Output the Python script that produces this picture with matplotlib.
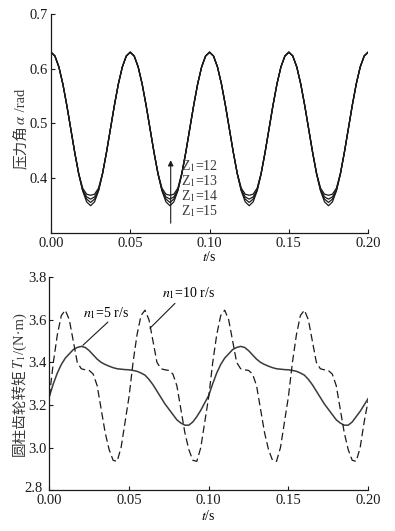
import matplotlib
matplotlib.use('Agg')
import matplotlib.pyplot as plt
import numpy as np

plt.rcParams['font.family'] = ['Liberation Serif', 'Noto Sans CJK SC']
plt.rcParams['mathtext.fontset'] = 'stix'
plt.rcParams['axes.unicode_minus'] = False

# time axis, both panels: 0 .. 0.2 s in 0.0025 s steps
t = np.linspace(0.0, 0.2, 81)

# pressure angle (rad) for each tooth number
alpha_z12 = [0.630, 0.623, 0.603, 0.572, 0.533, 0.490, 0.447, 0.409, 0.382, 0.371,
             0.369, 0.371, 0.382, 0.409, 0.447, 0.490, 0.533, 0.572, 0.603, 0.623,
             0.630, 0.623, 0.603, 0.572, 0.533, 0.490, 0.447, 0.409, 0.382, 0.371,
             0.369, 0.371, 0.382, 0.409, 0.447, 0.490, 0.533, 0.572, 0.603, 0.623,
             0.630, 0.623, 0.603, 0.572, 0.533, 0.490, 0.447, 0.409, 0.382, 0.371,
             0.369, 0.371, 0.382, 0.409, 0.447, 0.490, 0.533, 0.572, 0.603, 0.623,
             0.630, 0.623, 0.603, 0.572, 0.533, 0.490, 0.447, 0.409, 0.382, 0.371,
             0.369, 0.371, 0.382, 0.409, 0.447, 0.490, 0.533, 0.572, 0.603, 0.623,
             0.630]
alpha_z13 = [0.630, 0.623, 0.603, 0.572, 0.533, 0.490, 0.447, 0.408, 0.379, 0.366,
             0.362, 0.366, 0.379, 0.408, 0.447, 0.490, 0.533, 0.572, 0.603, 0.623,
             0.630, 0.623, 0.603, 0.572, 0.533, 0.490, 0.447, 0.408, 0.379, 0.366,
             0.362, 0.366, 0.379, 0.408, 0.447, 0.490, 0.533, 0.572, 0.603, 0.623,
             0.630, 0.623, 0.603, 0.572, 0.533, 0.490, 0.447, 0.408, 0.379, 0.366,
             0.362, 0.366, 0.379, 0.408, 0.447, 0.490, 0.533, 0.572, 0.603, 0.623,
             0.630, 0.623, 0.603, 0.572, 0.533, 0.490, 0.447, 0.408, 0.379, 0.366,
             0.362, 0.366, 0.379, 0.408, 0.447, 0.490, 0.533, 0.572, 0.603, 0.623,
             0.630]
alpha_z14 = [0.630, 0.623, 0.603, 0.572, 0.533, 0.490, 0.447, 0.408, 0.378, 0.362,
             0.356, 0.362, 0.378, 0.408, 0.447, 0.490, 0.533, 0.572, 0.603, 0.623,
             0.630, 0.623, 0.603, 0.572, 0.533, 0.490, 0.447, 0.408, 0.378, 0.362,
             0.356, 0.362, 0.378, 0.408, 0.447, 0.490, 0.533, 0.572, 0.603, 0.623,
             0.630, 0.623, 0.603, 0.572, 0.533, 0.490, 0.447, 0.408, 0.378, 0.362,
             0.356, 0.362, 0.378, 0.408, 0.447, 0.490, 0.533, 0.572, 0.603, 0.623,
             0.630, 0.623, 0.603, 0.572, 0.533, 0.490, 0.447, 0.408, 0.378, 0.362,
             0.356, 0.362, 0.378, 0.408, 0.447, 0.490, 0.533, 0.572, 0.603, 0.623,
             0.630]
alpha_z15 = [0.630, 0.623, 0.603, 0.572, 0.533, 0.490, 0.447, 0.408, 0.377, 0.357,
             0.350, 0.357, 0.377, 0.408, 0.447, 0.490, 0.533, 0.572, 0.603, 0.623,
             0.630, 0.623, 0.603, 0.572, 0.533, 0.490, 0.447, 0.408, 0.377, 0.357,
             0.350, 0.357, 0.377, 0.408, 0.447, 0.490, 0.533, 0.572, 0.603, 0.623,
             0.630, 0.623, 0.603, 0.572, 0.533, 0.490, 0.447, 0.408, 0.377, 0.357,
             0.350, 0.357, 0.377, 0.408, 0.447, 0.490, 0.533, 0.572, 0.603, 0.623,
             0.630, 0.623, 0.603, 0.572, 0.533, 0.490, 0.447, 0.408, 0.377, 0.357,
             0.350, 0.357, 0.377, 0.408, 0.447, 0.490, 0.533, 0.572, 0.603, 0.623,
             0.630]
z_labels = ['Z$_1$=12', 'Z$_1$=13', 'Z$_1$=14', 'Z$_1$=15']

# spur gear torque (N*m) at n1 = 5 r/s (solid) and n1 = 10 r/s (dashed)
torque_n5 = [3.240, 3.300, 3.350, 3.390, 3.420, 3.440, 3.460, 3.470, 3.475, 3.470,
             3.455, 3.435, 3.415, 3.400, 3.390, 3.382, 3.375, 3.370, 3.368, 3.366,
             3.365, 3.362, 3.358, 3.350, 3.340, 3.320, 3.295, 3.265, 3.235, 3.205,
             3.180, 3.155, 3.130, 3.115, 3.105, 3.105, 3.120, 3.145, 3.175, 3.210,
             3.245, 3.300, 3.350, 3.390, 3.420, 3.440, 3.460, 3.470, 3.475, 3.470,
             3.455, 3.435, 3.415, 3.400, 3.390, 3.382, 3.375, 3.370, 3.368, 3.366,
             3.365, 3.362, 3.358, 3.350, 3.340, 3.320, 3.295, 3.265, 3.235, 3.205,
             3.180, 3.155, 3.130, 3.115, 3.105, 3.105, 3.120, 3.145, 3.170, 3.200,
             3.230]
torque_n10 = [3.240, 3.400, 3.530, 3.620, 3.645, 3.600, 3.500, 3.400, 3.370, 3.365,
              3.362, 3.345, 3.290, 3.180, 3.070, 2.990, 2.940, 2.935, 3.000, 3.120,
              3.240, 3.400, 3.530, 3.620, 3.645, 3.600, 3.500, 3.400, 3.370, 3.365,
              3.362, 3.345, 3.290, 3.180, 3.070, 2.990, 2.940, 2.935, 3.000, 3.120,
              3.240, 3.400, 3.530, 3.620, 3.645, 3.600, 3.500, 3.400, 3.370, 3.365,
              3.362, 3.345, 3.290, 3.180, 3.070, 2.990, 2.940, 2.935, 3.000, 3.120,
              3.240, 3.400, 3.530, 3.620, 3.645, 3.600, 3.500, 3.400, 3.370, 3.365,
              3.362, 3.345, 3.290, 3.180, 3.070, 2.990, 2.940, 2.935, 3.000, 3.120,
              3.220]

ink = '#1a1a1a'
grey = '#3a3a3a'
ticks_x = [0.0, 0.05, 0.1, 0.15, 0.2]
ticks_x_lab = ['0.00', '0.05', '0.10', '0.15', '0.20']

fig = plt.figure(figsize=(3.95, 5.31), dpi=100)
renderer = fig.canvas.get_renderer()


def vertical_label(x, yc, parts, size=10.5):
    # ylabel made of pieces so CJK and italic math can be mixed
    texts = []
    for s in parts:
        tx = fig.text(x, 0, s, rotation=90, rotation_mode='anchor',
                      ha='left', va='baseline', fontsize=size, color=grey)
        texts.append(tx)
    inv = fig.transFigure.inverted()
    heights = []
    for tx in texts:
        bb = tx.get_window_extent(renderer)
        heights.append(inv.transform((0, bb.height))[1] - inv.transform((0, 0))[1])
    y = yc - sum(heights) / 2
    for tx, h in zip(texts, heights):
        tx.set_y(y)
        y += h


# --- top panel: pressure angle
ax1 = fig.add_axes([0.129, 0.561, 0.803, 0.413])
for a in (alpha_z12, alpha_z13, alpha_z14, alpha_z15):
    ax1.plot(t, a, color=ink, lw=0.9)
ax1.set_xlim(0, 0.2)
ax1.set_ylim(0.3, 0.7)
ax1.set_xticks(ticks_x)
ax1.set_xticklabels(ticks_x_lab)
ax1.set_yticks([0.4, 0.5, 0.6, 0.7])
ax1.set_xlabel(r'$t$/s', fontsize=10, labelpad=0)
vertical_label(0.063, 0.757, ['压力角', r'$\alpha$', ' /rad'])

ax1.annotate('', xy=(0.0755, 0.438), xytext=(0.0755, 0.313),
             arrowprops=dict(arrowstyle='-|>', color=ink, lw=0.8,
                             mutation_scale=8))
for lab, yv in zip(z_labels, [0.422, 0.395, 0.368, 0.341]):
    ax1.text(0.0822, yv, lab, fontsize=10, color=grey, va='center')

# --- bottom panel: torque
ax2 = fig.add_axes([0.125, 0.077, 0.807, 0.401])
ax2.plot(t, torque_n5, color=grey, lw=1.1)
ax2.plot(t, torque_n10, color=ink, lw=0.9, linestyle=(0, (6, 3)))
ax2.set_xlim(0, 0.2)
ax2.set_ylim(2.8, 3.8)
ax2.set_xticks(ticks_x)
ax2.set_xticklabels(ticks_x_lab)
ax2.set_yticks([2.8, 3.0, 3.2, 3.4, 3.6, 3.8])
ax2.set_yticklabels(['', '3.0', '3.2', '3.4', '3.6', '3.8'])
# corner label sits a little higher than the others
ax2.text(-0.004, 2.815, '2.8', fontsize=10.5, color=ink, ha='right',
         va='center_baseline')
ax2.set_xlabel(r'$t$/s', fontsize=10, labelpad=1)
vertical_label(0.061, 0.275, ['圆柱齿轮转矩', r'$T_1$', '/(N·m)'])

ax2.text(0.0358, 3.631, r'$n_1$=5 r/s', fontsize=10, ha='center', va='center')
ax2.annotate('', xy=(0.021, 3.48), xytext=(0.0367, 3.589),
             arrowprops=dict(arrowstyle='-', color=ink, lw=0.8,
                             shrinkA=0, shrinkB=0))
ax2.text(0.0706, 3.725, r'$n_1$=10 r/s', fontsize=10, ha='left', va='center')
ax2.annotate('', xy=(0.0631, 3.56), xytext=(0.0788, 3.677),
             arrowprops=dict(arrowstyle='-', color=ink, lw=0.8,
                             shrinkA=0, shrinkB=0))

for ax in (ax1, ax2):
    ax.spines['top'].set_visible(False)
    ax.spines['right'].set_visible(False)
    for s in ('left', 'bottom'):
        ax.spines[s].set_linewidth(0.9)
        ax.spines[s].set_color(ink)
    ax.tick_params(direction='in', length=3, width=0.8, labelsize=10.5,
                   colors=ink)
    ax.tick_params(axis='x', pad=3)
    ax.tick_params(axis='y', pad=2)

fig.savefig('out.png', dpi=100)
